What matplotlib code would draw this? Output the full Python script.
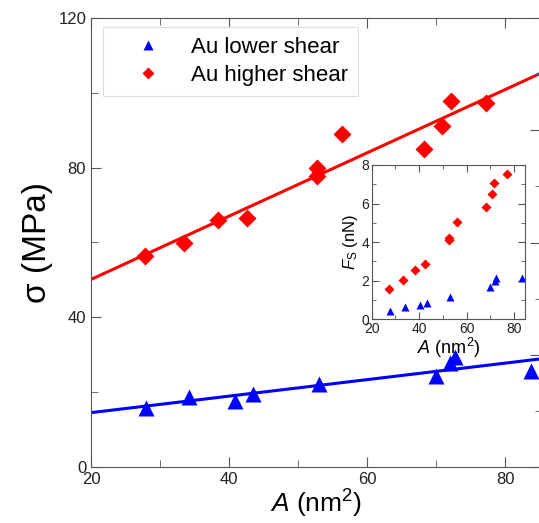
import matplotlib.pyplot as plt
from matplotlib.ticker import MultipleLocator
import numpy as np

plt.rcParams['font.family'] = ['Liberation Sans', 'DejaVu Sans']
plt.rcParams['mathtext.fontset'] = 'custom'
plt.rcParams['mathtext.rm'] = 'Liberation Sans'
plt.rcParams['mathtext.it'] = 'Liberation Sans:italic'

# main panel: shear stress vs contact area
a_low = [28.0, 34.2, 40.8, 43.5, 53.0, 70.0, 72.0, 72.8, 83.8]
s_low = [15.8, 18.8, 17.6, 19.4, 22.1, 24.3, 27.7, 29.5, 25.7]
a_high = [27.8, 33.5, 38.4, 42.6, 52.8, 52.8, 56.3, 68.3, 70.9, 72.1, 77.3]
s_high = [56.4, 59.9, 66.0, 66.5, 79.9, 77.8, 89.0, 85.0, 91.1, 97.8, 97.3]

# inset: friction force vs contact area
ia_low = [27.7, 34.1, 40.5, 43.5, 53.0, 69.9, 71.9, 72.5, 83.2]
f_low = [0.43, 0.66, 0.73, 0.85, 1.17, 1.69, 2.00, 2.12, 2.14]
ia_high = [27.4, 33.4, 38.3, 42.5, 52.6, 52.7, 56.1, 68.1, 70.9, 71.7, 77.2]
f_high = [1.57, 2.02, 2.56, 2.85, 4.12, 4.22, 5.03, 5.80, 6.48, 7.05, 7.53]

spine_col = '#555555'

fig = plt.figure(figsize=(5.39, 5.23), dpi=100)
ax = fig.add_axes([91 / 539, 56 / 523, 450 / 539, 449 / 523])

xs = np.array([20, 86])
p_low = np.polyfit(a_low, s_low, 1)
p_high = np.polyfit(a_high, s_high, 1)
ax.plot(xs, np.polyval(p_low, xs), color='#0000ff', lw=2.2, zorder=2)
ax.plot(xs, np.polyval(p_high, xs), color='#ff0000', lw=2.2, zorder=2)
ax.plot(a_low, s_low, '^', color='#0000ff', ms=11, mec='none', label='Au lower shear', zorder=3)
ax.plot(a_high, s_high, 'D', color='#ff0000', ms=9, mec='none', label='Au higher shear', zorder=3)

ax.set_xlim(20, 85.2)
ax.set_ylim(0, 120)
ax.xaxis.set_major_locator(MultipleLocator(20))
ax.xaxis.set_minor_locator(MultipleLocator(10))
ax.yaxis.set_major_locator(MultipleLocator(40))
ax.yaxis.set_minor_locator(MultipleLocator(20))
ax.tick_params(which='both', direction='in', top=True, right=False, colors=spine_col,
               labelcolor='#222222', labelsize=12)
ax.tick_params(which='major', length=7)
ax.tick_params(which='minor', length=5)
for sp in ax.spines.values():
    sp.set_color(spine_col)
ax.set_xlabel(r'$\it{A}$ (nm$^2$)', fontsize=19, labelpad=1)
ax.set_ylabel('σ (MPa)', fontsize=24, labelpad=4)

# right-hand ticks (axis cut off in the original)
ax2 = ax.twinx()
ax2.set_ylim(0, 120)
ax2.yaxis.set_major_locator(MultipleLocator(30))
ax2.yaxis.set_minor_locator(MultipleLocator(15))
ax2.tick_params(which='both', direction='in', colors=spine_col, labelright=False)
ax2.tick_params(which='major', length=8)
ax2.tick_params(which='minor', length=4)
for sp in ax2.spines.values():
    sp.set_visible(False)

leg = ax.legend(loc='upper left', bbox_to_anchor=(0.027, 0.98), borderaxespad=0,
                fontsize=16, markerscale=0.7, handlelength=3.1, handletextpad=0.4,
                borderpad=0.45, labelspacing=0.3, fancybox=False, framealpha=1,
                edgecolor='#dddddd')
leg.get_frame().set_linewidth(0.8)

# inset
ins = fig.add_axes([371.7 / 539, 203.7 / 523, 153.3 / 539, 154.3 / 523])
ins.plot(ia_low, f_low, '^', color='#0000ff', ms=6, mec='none')
ins.plot(ia_high, f_high, 'D', color='#ff0000', ms=5, mec='none')
ins.set_xlim(20, 84.6)
ins.set_ylim(0, 8)
ins.xaxis.set_major_locator(MultipleLocator(20))
ins.xaxis.set_minor_locator(MultipleLocator(10))
ins.yaxis.set_major_locator(MultipleLocator(2))
ins.yaxis.set_minor_locator(MultipleLocator(1))
ins.tick_params(which='both', direction='in', top=True, right=True, colors=spine_col,
                labelcolor='#222222', labelsize=10, pad=2)
ins.tick_params(which='major', length=5)
ins.tick_params(which='minor', length=3)
for sp in ins.spines.values():
    sp.set_color(spine_col)
ins.set_xlabel(r'$\it{A}$ (nm$^2$)', fontsize=13, labelpad=0)
ins.set_ylabel(r'$\it{F}_{\rm S}$ (nN)', fontsize=12, labelpad=1)

fig.savefig('out.png', dpi=100)
